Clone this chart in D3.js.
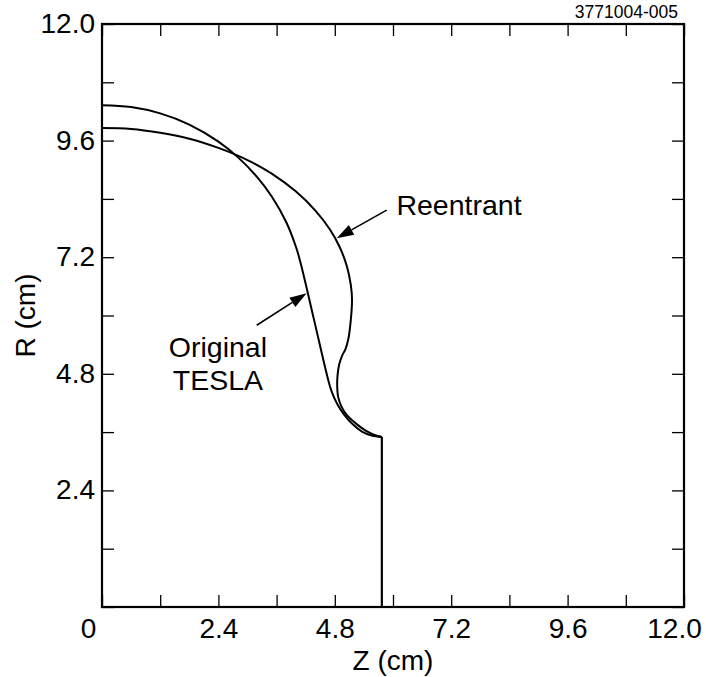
<!DOCTYPE html>
<html>
<head>
<meta charset="utf-8">
<script src="https://cdn.jsdelivr.net/npm/d3@7"></script>
<style>
  body { margin: 0; background: #fff; }
  text { font-family: "Liberation Sans", Arial, Helvetica, sans-serif; fill: #000; }
</style>
</head>
<body>
<svg width="706" height="677"></svg>
<script>
// tick values and labels (cm)
var tickValues = [0, 1.2, 2.4, 3.6, 4.8, 6.0, 7.2, 8.4, 9.6, 10.8, 12.0];
var xTickLabels = ["0", "", "2.4", "", "4.8", "", "7.2", "", "9.6", "", "12.0"];
var yTickLabels = ["", "", "2.4", "", "4.8", "", "7.2", "", "9.6", "", "12.0"];

// original TESLA half cell contour (Z, R)
var teslaZ = [0, 0.6, 1.2, 1.8, 2.4, 2.8, 3.2, 3.5, 3.8, 4.0, 4.09, 4.37, 4.65, 4.73, 4.85, 5.0, 5.17, 5.36, 5.56, 5.77];
var teslaR = [10.33, 10.29, 10.16, 9.93, 9.58, 9.26, 8.85, 8.45, 7.92, 7.41, 7.10, 5.92, 4.73, 4.45, 4.18, 3.95, 3.76, 3.61, 3.53, 3.50];

// reentrant half cell contour (Z, R)
var reentZ = [0, 0.6, 1.2, 1.8, 2.4, 3.0, 3.5, 4.0, 4.4, 4.7, 4.9, 5.05, 5.13, 5.155, 5.13, 5.08, 5.02, 4.95, 4.89, 4.855, 4.85, 4.87, 4.94, 5.05, 5.22, 5.42, 5.62, 5.77];
var reentR = [9.86, 9.84, 9.76, 9.64, 9.45, 9.20, 8.92, 8.55, 8.16, 7.77, 7.41, 7.01, 6.63, 6.32, 5.91, 5.52, 5.31, 5.17, 4.99, 4.75, 4.53, 4.32, 4.12, 3.95, 3.79, 3.64, 3.54, 3.50];

// beam pipe wall shared by both
var pipeZ = [5.77, 5.77];
var pipeR = [3.50, 0];

var svg = d3.select("svg"),
    margin = {top: 24, left: 102},
    width = 582,
    height = 583,
    g = svg.append("g").attr("transform", "translate(" + margin.left + "," + margin.top + ")");

var x = d3.scaleLinear().domain([0, 12]).range([0, width]);
var y = d3.scaleLinear().domain([0, 12]).range([height, 0]);

// axes with inward ticks on all sides
var xAxis = g.append("g")
    .attr("transform", "translate(0," + height + ")")
    .call(d3.axisBottom(x).tickValues(tickValues).tickSize(-12).tickPadding(11)
      .tickFormat(function(d, i) { return xTickLabels[i]; }));

var yAxis = g.append("g")
    .call(d3.axisLeft(y).tickValues(tickValues).tickSize(-12).tickPadding(7)
      .tickFormat(function(d, i) { return yTickLabels[i]; }));

g.append("g")
    .call(d3.axisTop(x).tickValues(tickValues).tickSize(-12).tickFormat(""));
g.append("g")
    .attr("transform", "translate(" + width + ",0)")
    .call(d3.axisRight(y).tickValues(tickValues).tickSize(-12).tickFormat(""));

g.selectAll(".domain").remove();
g.selectAll(".tick line").attr("stroke", "#000").attr("stroke-width", 1.3);
g.selectAll(".tick text").attr("font-size", 28).attr("font-family", null);
yAxis.selectAll(".tick text").attr("dy", "0.3em");

// corner labels sit a little inside
xAxis.selectAll(".tick text").attr("dx", function(d, i) {
  if (i === 0) return -14;
  if (i === tickValues.length - 1) return -10;
  return 0;
});

// frame
g.append("rect")
    .attr("width", width)
    .attr("height", height)
    .attr("fill", "none")
    .attr("stroke", "#000")
    .attr("stroke-width", 2.2);

// contours
var line = d3.line()
    .x(function(d) { return x(d[0]); })
    .y(function(d) { return y(d[1]); })
    .curve(d3.curveCatmullRom.alpha(0.5));

function pts(zs, rs) { return zs.map(function(z, i) { return [z, rs[i]]; }); }

[pts(teslaZ, teslaR), pts(reentZ, reentR)].forEach(function(p) {
  g.append("path")
      .attr("d", line(p))
      .attr("fill", "none")
      .attr("stroke", "#000")
      .attr("stroke-width", 2);
});

g.append("path")
    .attr("d", d3.line().x(function(d) { return x(d[0]); }).y(function(d) { return y(d[1]); })(pts(pipeZ, pipeR)))
    .attr("fill", "none")
    .attr("stroke", "#000")
    .attr("stroke-width", 2.2);

// annotation arrows: tail -> tip, in data units
var arrows = [
  {from: [5.87, 8.17], to: [4.84, 7.59]},
  {from: [3.19, 5.80], to: [4.22, 6.46]}
];

arrows.forEach(function(a) {
  var x0 = x(a.from[0]), y0 = y(a.from[1]), x1 = x(a.to[0]), y1 = y(a.to[1]);
  var ang = Math.atan2(y1 - y0, x1 - x0), len = 17, half = 5.5;
  var bx = x1 - len * Math.cos(ang), by = y1 - len * Math.sin(ang);
  g.append("line")
      .attr("x1", x0).attr("y1", y0).attr("x2", bx).attr("y2", by)
      .attr("stroke", "#000").attr("stroke-width", 1.6);
  g.append("path")
      .attr("d", "M" + x1 + "," + y1 +
        "L" + (bx - half * Math.sin(ang)) + "," + (by + half * Math.cos(ang)) +
        "L" + (bx + half * Math.sin(ang)) + "," + (by - half * Math.cos(ang)) + "Z")
      .attr("fill", "#000");
});

// annotation labels
g.append("text")
    .attr("x", x(6.07)).attr("y", y(8.07))
    .attr("font-size", 28.5)
    .text("Reentrant");

g.append("text")
    .attr("x", x(2.39)).attr("y", y(5.15))
    .attr("font-size", 28.5)
    .attr("text-anchor", "middle")
    .text("Original");

g.append("text")
    .attr("x", x(2.39)).attr("y", y(4.47))
    .attr("font-size", 28.5)
    .attr("text-anchor", "middle")
    .text("TESLA");

// axis titles
g.append("text")
    .attr("x", width / 2).attr("y", height + 63)
    .attr("font-size", 28)
    .attr("text-anchor", "middle")
    .text("Z (cm)");

g.append("text")
    .attr("transform", "translate(" + (-margin.left + 35) + "," + (height / 2) + ") rotate(-90)")
    .attr("font-size", 28)
    .attr("text-anchor", "middle")
    .text("R (cm)");

// figure id
svg.append("text")
    .attr("x", 678).attr("y", 18)
    .attr("font-size", 17.5)
    .attr("text-anchor", "end")
    .text("3771004-005");
</script>
</body>
</html>
